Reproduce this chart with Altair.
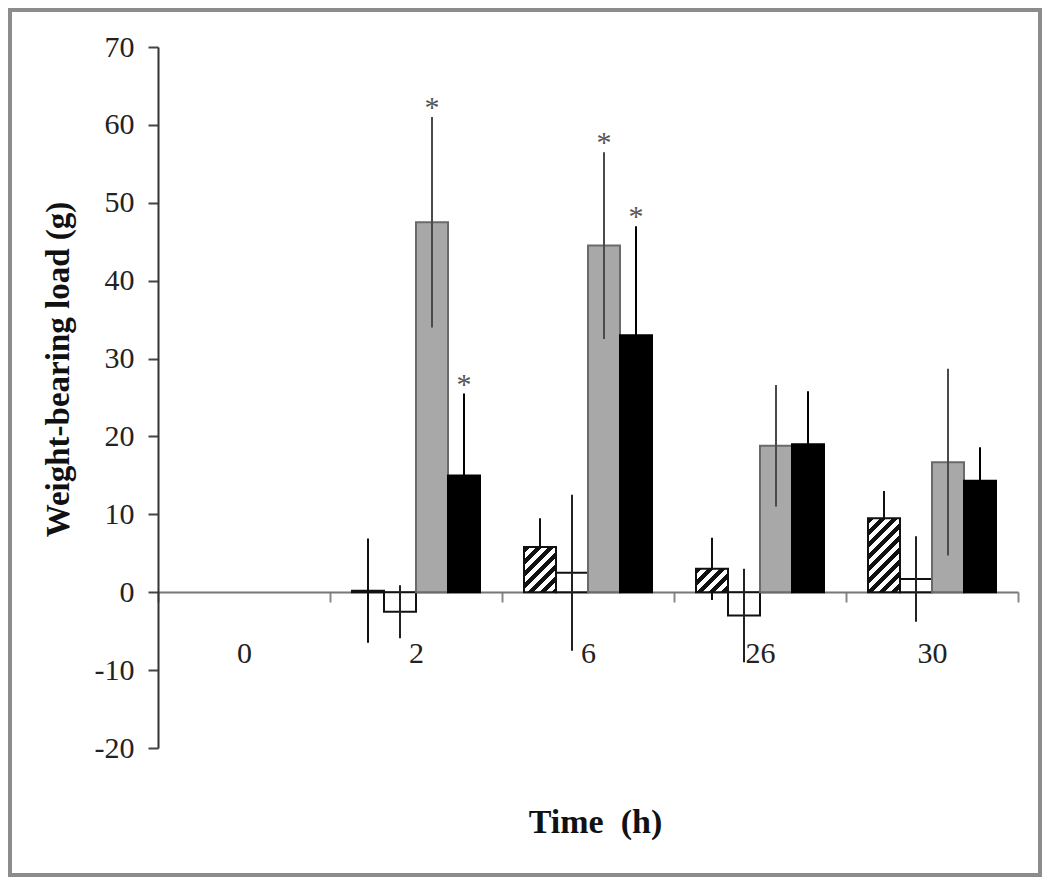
import math
import altair as alt
import pandas as pd

# ---------------- data ----------------
times = ["0", "2", "6", "26", "30"]
series = ["Group 1", "Group 2", "Group 3", "Group 4"]  # hatched, white, gray, black

# values for times 2, 6, 26, 30 (time 0 has no bars)
bar_times = ["2", "6", "26", "30"]
hatched = [0.2, 5.8, 3.0, 9.5]
hatched_err = [6.7, 3.7, 4.0, 3.5]
white = [-2.5, 2.5, -3.0, 1.7]
white_err = [3.4, 10.0, 6.0, 5.5]
gray = [47.5, 44.5, 18.8, 16.7]
gray_err = [13.5, 12.0, 7.8, 12.0]
black = [15.0, 33.0, 19.0, 14.3]
black_err = [10.5, 14.0, 6.8, 4.3]
# significance marks (series, time)
stars = [("Group 3", "2"), ("Group 4", "2"), ("Group 3", "6"), ("Group 4", "6")]

y_ticks = list(range(-20, 71, 10))

rows = []
for s, vals, errs in zip(series, [hatched, white, gray, black],
                         [hatched_err, white_err, gray_err, black_err]):
    for t, v, e in zip(bar_times, vals, errs):
        rows.append({"time": t, "series": s, "value": v, "lo": v - e, "hi": v + e})
df = pd.DataFrame(rows)
star_df = df[[(r.series, r.time) in stars for r in df.itertuples()]].copy()
star_df["label"] = "*"

# ---------------- layout ----------------
W, H = 860, 701
pad_left, pad_top = 150, 39
svg_w, svg_h = 1034, 869
FONT = "Liberation Serif"

x_enc = alt.X(
    "time:N",
    sort=times,
    scale=alt.Scale(domain=times, paddingInner=0, paddingOuter=0),
    axis=alt.Axis(
        title="Time\u00a0 (h)",
        labelAngle=0,
        offset=-156,
        tickBand="extent",
        tickSize=10,
        tickWidth=2,
        tickColor="#888",
        domainColor="#777",
        domainWidth=2,
        labelPadding=36,
        labelFont=FONT,
        labelFontSize=30,
        labelColor="#222",
        titleFont=FONT,
        titleFontSize=34,
        titleFontWeight="bold",
        titleColor="#111",
        titleX=437,
        titleY=230,
        titleBaseline="middle",
        grid=False,
    ),
)
xo_enc = alt.XOffset(
    "series:N",
    scale=alt.Scale(domain=series, paddingInner=0, paddingOuter=0.6875),
)
y_axis = alt.Axis(
    title="Weight-bearing load (g)",
    values=y_ticks,
    labelExpr="'' + datum.value",
    tickSize=10,
    tickWidth=2,
    tickColor="#444",
    domainColor="#333",
    domainWidth=2,
    labelPadding=14,
    labelFont=FONT,
    labelFontSize=30,
    labelColor="#222",
    titleFont=FONT,
    titleFontSize=33,
    titleFontWeight="bold",
    titleColor="#111",
    titleX=-100,
    titleY=322,
    titleAngle=270,
    titleBaseline="middle",
    grid=False,
)
y_scale = alt.Scale(domain=[-20, 70], nice=False)


def y_enc(field):
    return alt.Y(field, scale=y_scale, axis=y_axis)


base = alt.Chart(df)

white_bars = base.transform_filter(alt.datum.series == series[1]).mark_bar(
    fill="white", stroke="#111", strokeWidth=2
).encode(x=x_enc, xOffset=xo_enc, y=y_enc("value:Q"))

gray_bars = base.transform_filter(alt.datum.series == series[2]).mark_bar(
    fill="#a8a8a8", stroke="#6a6a6a", strokeWidth=2
).encode(x=x_enc, xOffset=xo_enc, y=y_enc("value:Q"))

black_bars = base.transform_filter(alt.datum.series == series[3]).mark_bar(
    fill="#000", stroke="#000", strokeWidth=2
).encode(x=x_enc, xOffset=xo_enc, y=y_enc("value:Q"))

# hatched bars: striped gradient fill, one layer per bar so stripes keep a constant spacing
px_per_unit = H / 90.0
bar_w = W / len(times) / (len(series) + 2 * 0.6875)
period = 12.0
hatched_layers = []
for t, v in zip(bar_times, hatched):
    h = max(abs(v) * px_per_unit, 1.0)
    w = bar_w
    c = (w + h) / (w * w + h * h)
    n = (w + h) / period
    stops = []
    k = 0
    while k / n < 1:
        a = k / n
        b = min((k + 0.5) / n, 1.0)
        d = min((k + 1) / n, 1.0)
        stops += [
            alt.GradientStop(offset=a, color="#111"),
            alt.GradientStop(offset=b, color="#111"),
            alt.GradientStop(offset=b, color="#fff"),
            alt.GradientStop(offset=d, color="#fff"),
        ]
        k += 1
    grad = alt.LinearGradient(gradient="linear", stops=stops, x1=0, y1=0, x2=w * c, y2=h * c)
    layer = base.transform_filter(
        (alt.datum.series == series[0]) & (alt.datum.time == t)
    ).mark_bar(fill=grad, stroke="#111", strokeWidth=2).encode(
        x=x_enc, xOffset=xo_enc, y=y_enc("value:Q")
    )
    hatched_layers.append(layer)

err_color = alt.Color(
    "series:N",
    scale=alt.Scale(domain=series, range=["#111", "#222", "#4a4a4a", "#000"]),
    legend=None,
)
# hatched error bars sit behind the hatched bars, the others on top
err_hatched = base.transform_filter(alt.datum.series == series[0]).mark_rule(strokeWidth=2).encode(
    x=x_enc, xOffset=xo_enc, y=y_enc("lo:Q"), y2="hi:Q", color=err_color
)
err_other = base.transform_filter(alt.datum.series != series[0]).mark_rule(strokeWidth=2).encode(
    x=x_enc, xOffset=xo_enc, y=y_enc("lo:Q"), y2="hi:Q", color=err_color
)

star_marks = alt.Chart(star_df).mark_text(
    font=FONT, fontSize=30, color="#555", baseline="alphabetic", dy=0
).encode(x=x_enc, xOffset=xo_enc, y=y_enc("hi:Q"), text="label:N")

frame = alt.Chart(pd.DataFrame({"a": [0]})).mark_rect(
    filled=False, stroke="#8c8c8c", strokeWidth=4
).encode(
    x=alt.value(2 - pad_left),
    x2=alt.value(svg_w - 2 - pad_left),
    y=alt.value(2 - pad_top),
    y2=alt.value(svg_h - 2 - pad_top),
)

chart = alt.layer(
    white_bars, gray_bars, black_bars, err_hatched, *hatched_layers, err_other, star_marks, frame
).properties(
    width=W,
    height=H,
    background="white",
    autosize=alt.AutoSizeParams(type="none"),
    padding={"left": pad_left, "top": pad_top, "right": svg_w - pad_left - W, "bottom": svg_h - pad_top - H},
).configure_view(strokeWidth=0, stroke="transparent")

chart.save("out.html", embed_options={"renderer": "svg", "actions": False})
